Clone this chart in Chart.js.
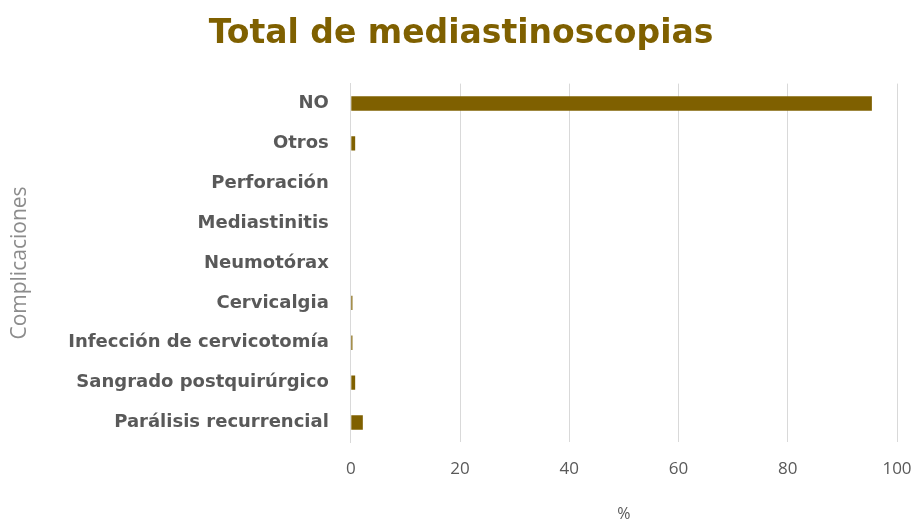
<!DOCTYPE html>
<html>
<head>
<meta charset="utf-8">
<script src="https://cdn.jsdelivr.net/npm/chart.js@4"></script>
<style>
  html, body { margin: 0; padding: 0; background: #fff; }
  #wrap { width: 917px; height: 524px; }
</style>
</head>
<body>
<div id="wrap"><canvas id="barChart" width="917" height="524"></canvas></div>
<script>
// categories, top to bottom
const categories = [
    'NO',
    'Otros',
    'Perforación',
    'Mediastinitis',
    'Neumotórax',
    'Cervicalgia',
    'Infección de cervicotomía',
    'Sangrado postquirúrgico',
    'Parálisis recurrencial'
];
// percent values
const percentValues = [95.4, 0.8, 0, 0, 0, 0.3, 0.3, 0.8, 2.2];
const xTicks = [0, 20, 40, 60, 80, 100];

const barColor = '#7f6000';

// Bar Chart
const barChart = new Chart(document.getElementById('barChart'), {
    type: 'bar',
    data: {
        labels: categories,
        datasets: [{
            label: '%',
            data: percentValues,
            backgroundColor: barColor,
            borderWidth: 0,
            barPercentage: 0.36,
            categoryPercentage: 1
        }]
    },
    options: {
        indexAxis: 'y',
        responsive: false,
        animation: false,
        layout: { padding: { left: 7, right: 2, top: 4, bottom: 0 } },
        plugins: {
            legend: { display: false },
            tooltip: { enabled: false },
            title: {
                display: true,
                text: 'Total de mediastinoscopias',
                color: barColor,
                font: { family: 'DejaVu Sans', size: 33, weight: 'bold' },
                padding: { top: 11, bottom: 29 }
            }
        },
        scales: {
            x: {
                min: 0,
                max: 100,
                afterBuildTicks: axis => { axis.ticks = xTicks.map(v => ({ value: v })); },
                afterFit: axis => { axis.paddingRight = 20; },
                grid: { color: '#d9d9d9', drawTicks: false },
                border: { display: false },
                ticks: {
                    color: '#595959',
                    padding: 17,
                    font: { family: 'Open Sans', size: 17 }
                },
                title: {
                    display: true,
                    text: '%',
                    color: '#595959',
                    font: { family: 'Open Sans', size: 16 },
                    padding: { top: 8, bottom: 0 }
                }
            },
            y: {
                grid: { display: false, drawTicks: false },
                border: { display: true, color: '#d9d9d9' },
                ticks: {
                    color: '#595959',
                    padding: 22,
                    font: { family: 'DejaVu Sans', size: 18, weight: 'bold' }
                },
                title: {
                    display: true,
                    text: 'Complicaciones',
                    color: '#8c8c8c',
                    font: { family: 'Open Sans', size: 21 },
                    padding: { top: 0, bottom: 14 }
                }
            }
        }
    }
});
</script>
</body>
</html>
